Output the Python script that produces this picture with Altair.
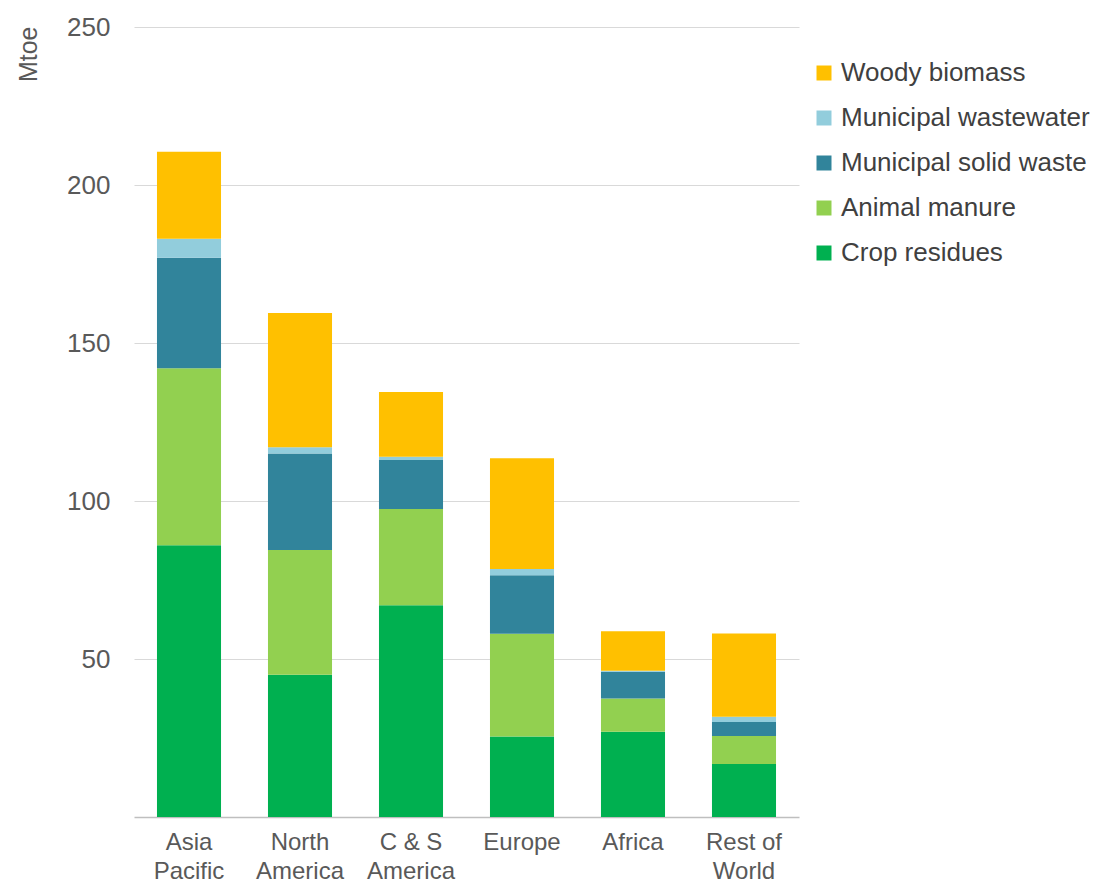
import altair as alt
import pandas as pd

regions = ["Asia|Pacific", "North|America", "C & S|America", "Europe", "Africa", "Rest of|World"]
series = ["Crop residues", "Animal manure", "Municipal solid waste", "Municipal wastewater", "Woody biomass"]
crop = [86, 45, 67, 25.5, 27, 16.8]
manure = [56, 39.5, 30.5, 32.5, 10.5, 8.8]
msw = [35, 30.5, 15.5, 18.5, 8.5, 4.5]
wastewater = [6, 2, 1, 2, 0.3, 1.6]
woody = [27.5, 42.5, 20.5, 35, 12.5, 26.4]

colors = {
    "Woody biomass": "#FFC000",
    "Municipal wastewater": "#92CDDC",
    "Municipal solid waste": "#31849B",
    "Animal manure": "#92D050",
    "Crop residues": "#00B050",
}

rows = []
for vals, s in zip([crop, manure, msw, wastewater, woody], series):
    for r, v in zip(regions, vals):
        rows.append({"region": r, "series": s, "value": v, "rank": series.index(s)})
df = pd.DataFrame(rows)

legend_order = ["Woody biomass", "Municipal wastewater", "Municipal solid waste", "Animal manure", "Crop residues"]

font = "Liberation Sans"
chart = alt.Chart(df).mark_bar().encode(
    x=alt.X("region:N", sort=regions, title=None,
            scale=alt.Scale(paddingInner=0.423, paddingOuter=0.207),
            axis=alt.Axis(labelExpr="split(datum.label, '|')", labelAngle=0, labelFontSize=24,
                          labelColor="#595959", labelFont=font, ticks=False, domainColor="#BFBFBF",
                          domainWidth=1.5, labelPadding=13, labelLineHeight=29)),
    y=alt.Y("value:Q", title="Mtoe",
            scale=alt.Scale(domain=[0, 250]),
            axis=alt.Axis(values=[50, 100, 150, 200, 250], domain=False, ticks=False,
                          labelFontSize=26, labelColor="#595959", labelFont=font, labelPadding=24,
                          gridColor="#D9D9D9", titleFont=font, titleFontSize=25, titleColor="#595959",
                          titleFontWeight="normal", titleAngle=-90, titleAlign="right",
                          titleBaseline="alphabetic", titleX=-98, titleY=-1)),
    color=alt.Color("series:N", scale=alt.Scale(domain=legend_order,
                                               range=[colors[s] for s in legend_order]),
                    legend=alt.Legend(title=None, orient="none", legendX=677, legendY=33,
                                      symbolType="square", symbolSize=225, symbolStrokeWidth=0,
                                      labelFontSize=26, labelFont=font, labelColor="#404040",
                                      rowPadding=19, labelOffset=4, labelLimit=0)),
    order=alt.Order("rank:Q", sort="ascending"),
).properties(width=665, height=790, padding={"left": 7, "top": 6, "right": 0, "bottom": 0}
).configure_view(stroke=None)

chart.save("out.html", embed_options={"renderer": "svg", "actions": False})
